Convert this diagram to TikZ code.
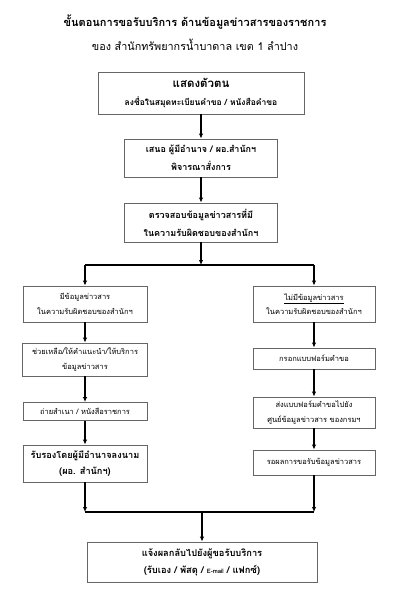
\documentclass[tikz,border=0pt]{standalone}
\usepackage{fontspec}
\setmainfont[Script=Thai]{Loma}
\usetikzlibrary{arrows.meta}
\tikzset{
  box/.style={draw=black!60, line width=0.9pt, fill=white, inner sep=0pt, align=center},
  arr/.style={line width=1.1pt, -{Latex[length=5pt,width=4.5pt]}},
  ln/.style={line width=1.1pt},
  tb/.style={font=\fontsize{9}{18}\selectfont\bfseries},
  tr/.style={font=\fontsize{7.5}{14.5}\selectfont},
}
\begin{document}
\begin{tikzpicture}[x=1pt,y=-1pt]
\useasboundingbox (0,0) rectangle (402,600);
\fill[white] (0,0) rectangle (402,600);
\node (title) at (195,22) {\fontsize{11}{14}\selectfont\bfseries ขั้นตอนการขอรับบริการ ด้านข้อมูลข่าวสารของราชการ};
\node (sub) at (195,45) {\fontsize{10.8}{13}\selectfont ของ สำนักทรัพยากรน้ำบาดาล เขต 1 ลำปาง};

\node[box, font=\fontsize{8}{18}\selectfont, minimum width=206pt, minimum height=42pt] (b1) at (201,93)
  {{\fontsize{11.5}{14}\selectfont\bfseries แสดงตัวตน}\\{\fontsize{8.5}{10}\selectfont\bfseries ลงชื่อในสมุดทะเบียนคำขอ / หนังสือคำขอ}};
\node[box, tb, minimum width=153pt, minimum height=38pt] (b2) at (201,158)
  {เสนอ ผู้มีอำนาจ / ผอ.สำนักฯ\\พิจารณาสั่งการ};
\node[box, tb, minimum width=153pt, minimum height=39pt] (b3) at (201,222.5)
  {ตรวจสอบข้อมูลข่าวสารที่มี\\ในความรับผิดชอบของสำนักฯ};

\node[box, tr, minimum width=124pt, minimum height=36pt] (a1) at (85,304)
  {มีข้อมูลข่าวสาร\\ในความรับผิดชอบของสำนักฯ};
\node[box, tr, minimum width=125pt, minimum height=33pt] (a2) at (85,359.5)
  {ช่วยเหลือ/ให้คำแนะนำ/ให้บริการ\\ข้อมูลข่าวสาร};
\node[box, tr, minimum width=124pt, minimum height=18pt] (a3) at (85,411.5)
  {ถ่ายสำเนา / หนังสือราชการ};
\node[box, font=\fontsize{9.2}{16}\selectfont\bfseries, minimum width=124pt, minimum height=37pt] (a4) at (85,463.5)
  {รับรองโดยผู้มีอำนาจลงนาม\\(ผอ. สำนักฯ)};

\node[box, tr, minimum width=122pt, minimum height=36pt] (c1) at (314,304)
  {\underline{ไม่มีข้อมูลข่าวสาร}\\ในความรับผิดชอบของสำนักฯ};
\node[box, tr, minimum width=122pt, minimum height=21pt] (c2) at (314,358.5)
  {กรอกแบบฟอร์มคำขอ};
\node[box, tr, minimum width=122pt, minimum height=31pt] (c3) at (314,412.5)
  {ส่งแบบฟอร์มคำขอไปยัง\\ศูนย์ข้อมูลข่าวสาร ของกรมฯ};
\node[box, tr, minimum width=122pt, minimum height=25pt] (c4) at (314,462.5)
  {รอผลการขอรับข้อมูลข่าวสาร};

\node[box, font=\fontsize{9.3}{17}\selectfont\bfseries, minimum width=230pt, minimum height=40pt] (b5) at (202,562)
  {แจ้งผลกลับไปยังผู้ขอรับบริการ\\(รับเอง / พัสดุ / {\fontsize{6}{8}\selectfont E-mail} / แฟกซ์)};

\coordinate (split) at (201,265);
\coordinate (join) at (202,512);

\draw[arr] (b1) -- (b2);
\draw[arr] (b2) -- (b3);
\draw[arr] (b3) -- (split);
\draw[ln] (a1.north |- split) -- (c1.north |- split);
\draw[arr] (a1.north |- split) -- (a1.north);
\draw[arr] (c1.north |- split) -- (c1.north);
\draw[arr] (a1) -- (a2);
\draw[arr] (a2) -- (a3);
\draw[arr] (a3) -- (a4);
\draw[arr] (c1) -- (c2);
\draw[arr] (c2) -- (c3);
\draw[arr] (c3) -- (c4);
\draw[arr] (a4.south) -- (a4.south |- join);
\draw[arr] (c4.south) -- (c4.south |- join);
\draw[ln] (a4.south |- join) -- (c4.south |- join);
\draw[arr] (b5.north |- join) -- (b5.north);
\end{tikzpicture}
\end{document}
